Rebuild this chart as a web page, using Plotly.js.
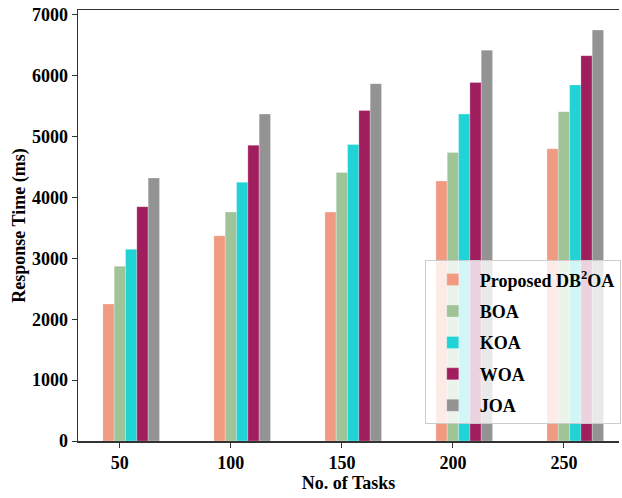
<!DOCTYPE html>
<html>
<head>
<meta charset="utf-8">
<script src="https://cdn.plot.ly/plotly-3.0.1.min.js"></script>
<style>html,body{margin:0;padding:0;background:#fff;}#chart{width:622px;height:498px;}</style>
</head>
<body>
<div id="chart"></div>
<script>
const tasks = ["50", "100", "150", "200", "250"];
const seriesNames = ["Proposed DB<sup>2</sup>OA", "BOA", "KOA", "WOA", "JOA"];
const proposed = [2250, 3370, 3760, 4270, 4800];
const boa = [2870, 3760, 4410, 4740, 5410];
const koa = [3150, 4250, 4870, 5370, 5850];
const woa = [3850, 4860, 5430, 5890, 6330];
const joa = [4320, 5370, 5870, 6420, 6750];
const seriesValues = [proposed, boa, koa, woa, joa];
const colors = ["#F09A82", "#9FC497", "#22D3D6", "#A01E5E", "#939393"];

const w = 0.102;
const traces = seriesValues.map((vals, i) => ({
  type: 'bar',
  name: seriesNames[i],
  legendgroup: 'g' + i,
  x: tasks,
  y: vals,
  width: w,
  offset: (i - 1.5) * w,
  marker: {
    color: colors[i],
    line: {color: 'rgba(255,255,255,0.5)', width: 0.5}
  }
}));

const font = {family: 'Liberation Serif, Times New Roman, serif', color: '#000'};
Plotly.newPlot('chart', traces, {
  width: 622, height: 498,
  margin: {l: 78, r: 1, t: 10, b: 57},
  paper_bgcolor: '#fff', plot_bgcolor: '#fff',
  barmode: 'overlay',
  showlegend: true,
  font: font,
  xaxis: {
    type: 'category',
    range: [-0.377, 4.496],
    showline: true, mirror: true, linecolor: '#333', linewidth: 1.5,
    ticks: 'outside', ticklen: 5, tickcolor: '#333',
    showgrid: false, zeroline: false,
    tickfont: {family: font.family, size: 18, weight: 'bold', color: '#000'},
    title: {text: 'No. of Tasks', font: {family: font.family, size: 18, weight: 'bold', color: '#000'}, standoff: 4}
  },
  yaxis: {
    range: [0, 7080],
    tickvals: [0, 1000, 2000, 3000, 4000, 5000, 6000, 7000],
    showline: true, linecolor: '#333', linewidth: 1.5,
    ticks: 'outside', ticklen: 5, tickcolor: '#333',
    showgrid: false, zeroline: false,
    tickfont: {family: font.family, size: 18, weight: 'bold', color: '#000'},
    title: {text: 'Response Time (ms)', font: {family: font.family, size: 18, weight: 'bold', color: '#000'}, standoff: 1}
  },
  legend: {
    x: 0.641, y: 0.419, xanchor: 'left', yanchor: 'top',
    bgcolor: 'rgba(255,255,255,0.8)', bordercolor: '#cccccc', borderwidth: 1,
    font: {family: font.family, size: 18, weight: 'bold', color: '#000'},
    tracegroupgap: 5, itemwidth: 44
  }
}, {displayModeBar: false, staticPlot: true});
</script>
</body>
</html>
